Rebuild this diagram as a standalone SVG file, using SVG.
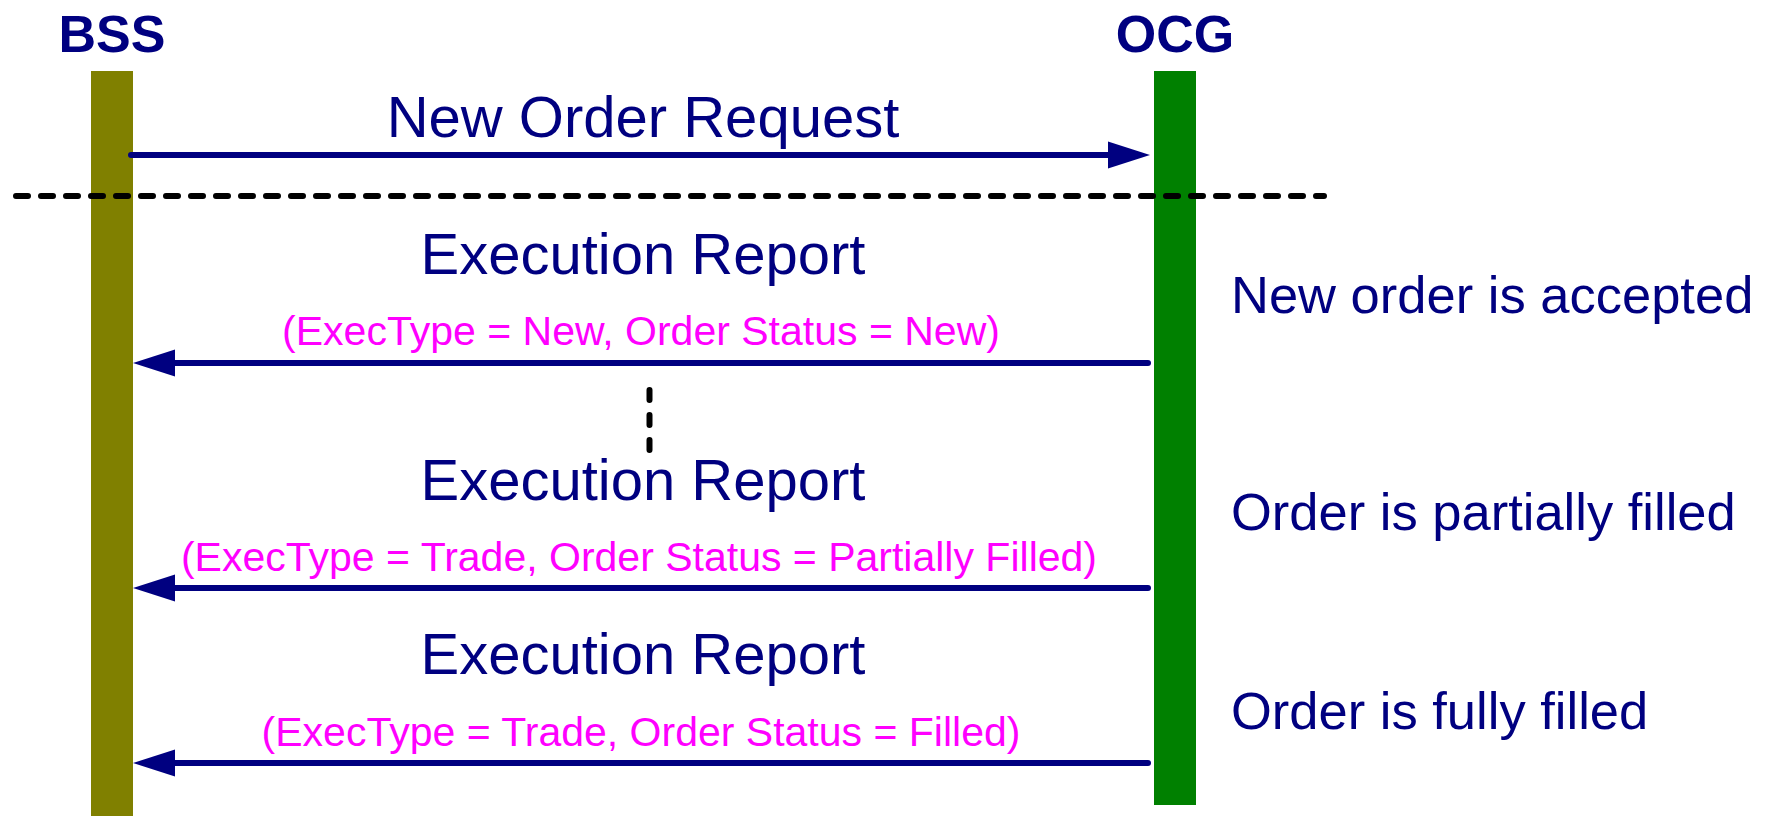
<svg xmlns="http://www.w3.org/2000/svg" width="1766" height="816" viewBox="0 0 1766 816">
<style>
text{font-family:"Liberation Sans",Arial,sans-serif}
.hdr{font-size:52px;font-weight:bold;fill:#000080;text-anchor:middle}
.msg{font-size:58px;fill:#000080;text-anchor:middle}
.sub{font-size:41px;fill:#FF00FF;text-anchor:middle}
.note{font-size:52.5px;fill:#000080}
.arr{stroke:#000080;stroke-width:6;stroke-linecap:round;fill:none}
.head{fill:#000080}
.dash{stroke:#000;stroke-width:6;stroke-linecap:round;fill:none}
</style>
<rect width="1766" height="816" fill="#fff"/>
<g id="bss">
<rect x="91" y="71" width="42" height="745" fill="#808000"/>
<text class="hdr" x="112" y="52">BSS</text>
</g>
<g id="ocg">
<rect x="1154" y="71" width="42" height="734" fill="#008000"/>
<text class="hdr" x="1175" y="52">OCG</text>
</g>
<g id="connectors">
<line class="arr" x1="131" y1="155" x2="1112" y2="155"/>
<polygon class="head" points="1150,155 1108,141.5 1108,168.5"/>
<line class="arr" x1="1148" y1="363" x2="170" y2="363"/>
<polygon class="head" points="133,363 175,349.5 175,376.5"/>
<line class="arr" x1="1148" y1="588" x2="170" y2="588"/>
<polygon class="head" points="133,588 175,574.5 175,601.5"/>
<line class="arr" x1="1148" y1="763" x2="170" y2="763"/>
<polygon class="head" points="133,763 175,749.5 175,776.5"/>
<line class="dash" x1="16" y1="196" x2="1324" y2="196" stroke-dasharray="12 13"/>
<line class="dash" x1="649.5" y1="390" x2="649.5" y2="450" stroke-dasharray="10 15"/>
</g>
<g id="labels">
<text class="msg" x="643" y="137">New Order Request</text>
<text class="msg" x="643" y="274">Execution Report</text>
<text class="sub" x="641" y="345">(ExecType = New, Order Status = New)</text>
<text class="msg" x="643" y="500">Execution Report</text>
<text class="sub" x="639" y="571">(ExecType = Trade, Order Status = Partially Filled)</text>
<text class="msg" x="643" y="674">Execution Report</text>
<text class="sub" x="641" y="746">(ExecType = Trade, Order Status = Filled)</text>
<text class="note" x="1231" y="313">New order is accepted</text>
<text class="note" x="1231" y="530">Order is partially filled</text>
<text class="note" x="1231" y="729">Order is fully filled</text>
</g>
</svg>
